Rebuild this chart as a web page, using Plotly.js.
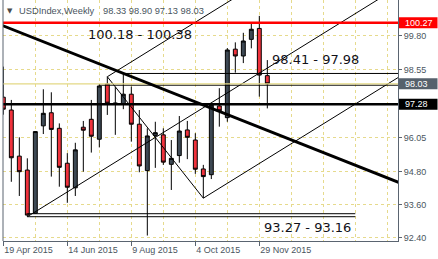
<!DOCTYPE html>
<html>
<head>
<meta charset="utf-8">
<script src="https://cdn.plot.ly/plotly-3.0.1.min.js"></script>
<style>
  html, body { margin: 0; padding: 0; background: #ffffff; }
  #chart { width: 438px; height: 259px; }
</style>
</head>
<body>
<div id="chart"></div>
<script>
// Weekly USD index bars (week start dates)
const weeks = ['2015-04-19','2015-04-26','2015-05-03','2015-05-10','2015-05-17','2015-05-24','2015-05-31',
  '2015-06-07','2015-06-14','2015-06-21','2015-06-28','2015-07-05','2015-07-12','2015-07-19','2015-07-26',
  '2015-08-02','2015-08-09','2015-08-16','2015-08-23','2015-08-30','2015-09-06','2015-09-13','2015-09-20',
  '2015-09-27','2015-10-04','2015-10-11','2015-10-18','2015-10-25','2015-11-01','2015-11-08','2015-11-15',
  '2015-11-22','2015-11-29','2015-12-06'];

const openP  = [97.54, 97.07, 95.38, 94.87, 93.29, 96.49, 96.97, 96.40, 95.12, 94.22, 96.44, 96.73, 96.00, 98.02, 97.33, 97.28, 97.65,
                96.55, 94.85, 96.14, 96.16, 95.08, 95.40, 96.34, 95.97, 94.91, 94.70, 97.22, 96.79, 99.30, 99.05, 99.66, 100.06, 98.33];
const highP  = [98.66, 97.44, 96.07, 95.30, 96.30, 97.83, 97.72, 96.58, 95.49, 95.87, 96.67, 97.44, 98.02, 98.29, 97.92, 98.41, 97.93,
                97.07, 96.40, 96.64, 96.40, 95.97, 96.85, 96.67, 96.22, 95.06, 97.30, 97.87, 99.34, 99.55, 99.90, 100.27, 100.52, 98.90];
const lowP   = [96.90, 94.44, 93.92, 93.16, 93.27, 96.19, 94.63, 94.26, 93.67, 93.92, 94.81, 95.51, 95.70, 96.89, 96.16, 97.10, 95.91,
                94.79, 92.47, 94.95, 95.06, 94.14, 95.14, 95.27, 94.73, 93.84, 94.54, 96.46, 96.64, 98.44, 98.79, 99.33, 97.56, 97.13];
const closeP = [97.10, 95.32, 94.81, 93.22, 96.28, 96.95, 96.36, 94.97, 94.24, 95.61, 96.33, 96.11, 97.95, 97.32, 97.29, 97.65, 96.55,
                95.02, 96.12, 96.24, 95.16, 95.30, 96.30, 96.07, 94.90, 94.63, 97.25, 97.04, 99.27, 99.05, 99.60, 100.03, 98.35, 98.03];

// Date axis labels
const dateLabelWeeks = ['2015-04-19','2015-06-14','2015-08-09','2015-10-04','2015-11-29'];
const dateLabels     = ['19 Apr 2015','14 Jun 2015','9 Aug 2015','4 Oct 2015','29 Nov 2015'];

// Price axis grid levels and labels
const priceTicks      = [92.40, 93.60, 94.80, 96.05, 97.30, 98.55, 99.80];
const priceTickLabels = ['92.40','93.60','94.80','96.05','','98.55','99.80'];

// Horizontal levels
const resistance = 100.27;
const support = 97.28;
const upperZone = [98.41, 97.98];
const upperZoneFrom = [15, 12];            // bar index where each zone line starts
const lowerZone = [93.27, 93.16];
const lowerZoneSpan = [3, 44];
const topZoneText = [100.18, 100.38];

// Falling trend line (bar index, price)
const trendX = [-1, 50];
const trendY = [100.27, 94.35];

// Pitchfork pivots (bar index, price)
const pivotX = [3, 13, 25];
const pivotY = [93.16, 98.29, 93.84];

const n = weeks.length;
const xi = weeks.map((_, i) => i);
const lastClose = closeP[n - 1];

const GRID = '#e6da8c';
const AXIS = '#5a6470';
const TXT = '#4a5560';
const FAR = 60;

function seg(x0, y0, x1, y1, color, width) {
  return { type: 'scatter', mode: 'lines', x: [x0, x1], y: [y0, y1],
           line: { color: color, width: width }, hoverinfo: 'skip', showlegend: false };
}

const traces = [];
traces.push({
  type: 'candlestick', x: xi, open: openP, high: highP, low: lowP, close: closeP,
  increasing: { line: { color: '#000000', width: 1 }, fillcolor: '#3d4853' },
  decreasing: { line: { color: '#000000', width: 1 }, fillcolor: '#f0323c' },
  whiskerwidth: 0, hoverinfo: 'skip', showlegend: false
});

// pitchfork: median from first pivot through midpoint of the other two, parallels through them
const midX = (pivotX[1] + pivotX[2]) / 2;
const midY = (pivotY[1] + pivotY[2]) / 2;
const slope = (midY - pivotY[0]) / (midX - pivotX[0]);
[0, 1, 2].forEach(k => {
  traces.push(seg(pivotX[k], pivotY[k], FAR, pivotY[k] + slope * (FAR - pivotX[k]), '#000000', 1));
});
traces.push(seg(pivotX[1], pivotY[1], pivotX[2], pivotY[2], '#000000', 1));

// horizontal levels
traces.push(seg(upperZoneFrom[0], upperZone[0], FAR, upperZone[0], '#000000', 1));
traces.push(seg(upperZoneFrom[1], upperZone[1], FAR, upperZone[1], '#000000', 1));
traces.push(seg(lowerZoneSpan[0], lowerZone[0], lowerZoneSpan[1], lowerZone[0], '#000000', 1));
traces.push(seg(lowerZoneSpan[0], lowerZone[1], lowerZoneSpan[1], lowerZone[1], '#000000', 1));
traces.push(seg(-5, lastClose, FAR, lastClose, '#e3d885', 1.2));
traces.push(seg(-5, support, FAR, support, '#000000', 2.5));
traces.push(seg(-5, resistance, FAR, resistance, '#ff0000', 2.5));

// falling trend line
traces.push(seg(trendX[0], trendY[0], trendX[1], trendY[1], '#000000', 3));

const tickIdx = dateLabelWeeks.map(d => weeks.indexOf(d));

const fmt = v => v.toFixed(2);
const levelFont = { family: 'DejaVu Sans', size: 13, color: '#111118' };

const annotations = [
  { xref: 'paper', yref: 'paper', x: 0.0172, y: 0.955, xanchor: 'center', yanchor: 'middle',
    text: '▼', showarrow: false, font: { family: 'DejaVu Sans', size: 7, color: '#4a4a4a' } },
  { xref: 'paper', yref: 'paper', x: 0.036, y: 0.955, xanchor: 'left', yanchor: 'middle',
    text: 'USDIndex,Weekly', showarrow: false, font: { family: 'Liberation Sans', size: 9.3, color: TXT } },
  { xref: 'paper', yref: 'paper', x: 0.2473, y: 0.955, xanchor: 'left', yanchor: 'middle',
    text: [openP[n-1], highP[n-1], lowP[n-1], closeP[n-1]].map(fmt).join(' '),
    showarrow: false, font: { family: 'Liberation Sans', size: 9.3, color: TXT } },
  { xref: 'x', yref: 'y', x: 17.1, y: 99.82, text: fmt(topZoneText[0]) + ' - ' + fmt(topZoneText[1]),
    showarrow: false, font: levelFont },
  { xref: 'x', yref: 'y', x: 39.05, y: 98.93, text: fmt(upperZone[0]) + ' - ' + fmt(upperZone[1]),
    showarrow: false, font: levelFont },
  { xref: 'x', yref: 'y', x: 38.05, y: 92.77, text: fmt(lowerZone[0]) + ' - ' + fmt(lowerZone[1]),
    showarrow: false, font: levelFont }
];

// price tags at the right edge
const tags = [
  { v: resistance, bg: '#ff0000' },
  { v: lastClose, bg: '#56616c' },
  { v: support, bg: '#000000' }
];
const shapes = [
  { type: 'line', xref: 'paper', yref: 'paper', x0: 0, x1: 0, y0: 0, y1: 1, line: { color: AXIS, width: 1 } }
];
tags.forEach(t => {
  shapes.push({ type: 'rect', xref: 'paper', yref: 'y', x0: 1.0025, x1: 1.1, y0: t.v - 0.2, y1: t.v + 0.2,
                fillcolor: t.bg, line: { width: 0 }, layer: 'above' });
  annotations.push({ xref: 'paper', yref: 'y', x: 1, y: t.v, xanchor: 'left', yanchor: 'middle', xshift: 5,
                     text: fmt(t.v), showarrow: false, font: { family: 'Liberation Sans', size: 9, color: '#ffffff' } });
});

const layout = {
  width: 438, height: 259,
  margin: { l: 3, r: 40, t: 0, b: 18, pad: 0 },
  paper_bgcolor: '#ffffff', plot_bgcolor: '#ffffff',
  showlegend: false,
  xaxis: {
    range: [-0.04, 49.335], rangeslider: { visible: false },
    tickmode: 'array', tickvals: tickIdx, ticktext: dateLabels,
    ticks: 'outside', ticklen: 4, tickcolor: AXIS, ticklabelposition: 'outside right',
    tickfont: { family: 'Liberation Sans', size: 9, color: TXT },
    showline: true, linecolor: AXIS, linewidth: 1,
    showgrid: true, gridcolor: GRID, griddash: '3px,3px', gridwidth: 1,
    minor: { dtick: 4, tick0: 0, showgrid: true, gridcolor: GRID, griddash: '3px,3px', gridwidth: 1 },
    zeroline: false, fixedrange: true
  },
  yaxis: {
    side: 'right', range: [92.27, 101.102],
    tickmode: 'array', tickvals: priceTicks, ticktext: priceTickLabels,
    ticks: 'outside', ticklen: 3, tickcolor: AXIS,
    tickfont: { family: 'Liberation Sans', size: 9, color: TXT },
    showline: true, linecolor: AXIS, linewidth: 1,
    showgrid: true, gridcolor: GRID, griddash: '3px,3px', gridwidth: 1,
    zeroline: false, fixedrange: true
  },
  annotations: annotations,
  shapes: shapes
};

Plotly.newPlot('chart', traces, layout, { staticPlot: true, displayModeBar: false });
</script>
</body>
</html>
